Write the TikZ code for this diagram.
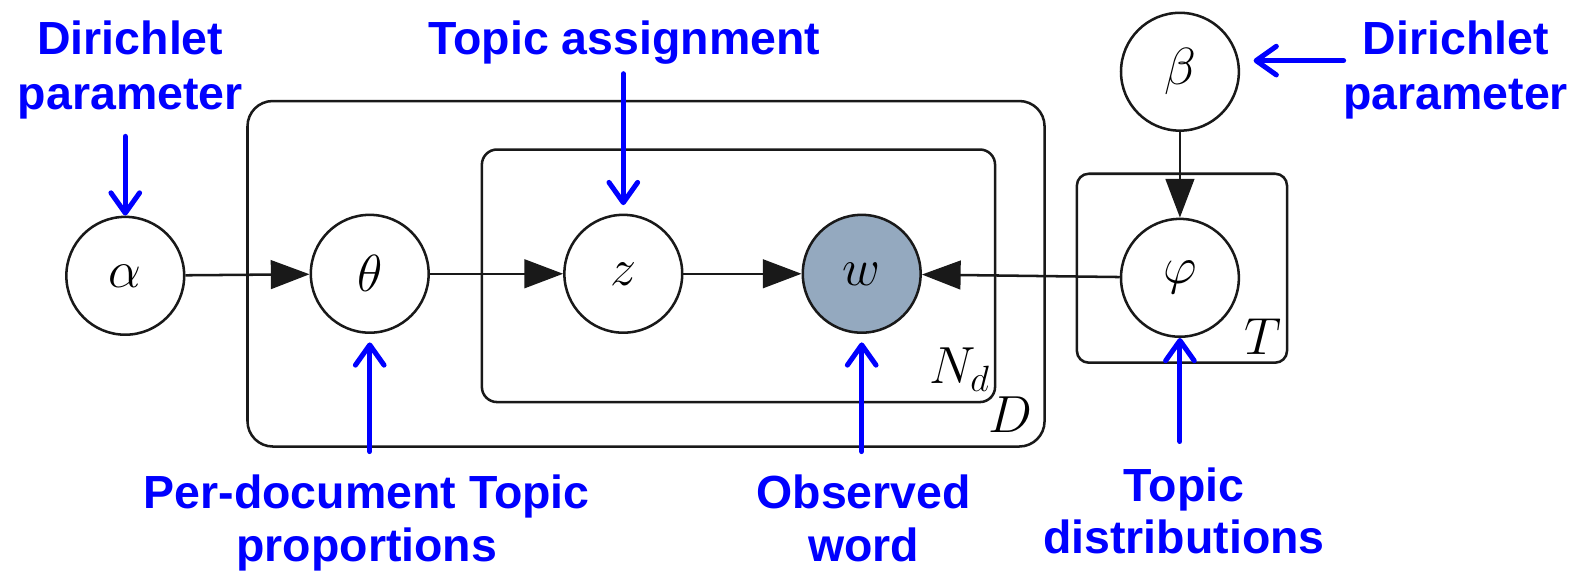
\RequirePackage{fix-cm}
\documentclass[tikz,border=0pt]{standalone}
\usepackage{fontspec}
\setsansfont{Liberation Sans}
\usetikzlibrary{arrows.meta}
\definecolor{lblue}{RGB}{0,0,255}
\definecolor{obs}{RGB}{148,169,191}
\definecolor{ink}{RGB}{25,25,25}
\begin{document}
\begin{tikzpicture}[x=0.6pt,y=-0.6pt,
  var/.style={circle,draw=ink,line width=1.5pt,minimum size=70pt,inner sep=0pt,font=\fontsize{31}{37}\selectfont},
  obsvar/.style={var,fill=obs},
  plate/.style={draw=ink,line width=1.5pt},
  edge/.style={draw=ink,line width=1.5pt,-{Triangle[length=23pt,width=17pt]}},
  note/.style={text=lblue,font=\sffamily\bfseries\fontsize{27.6}{33}\selectfont,align=center,inner sep=0pt},
  lownote/.style={note,font=\sffamily\bfseries\fontsize{27.6}{31}\selectfont},
  pointer/.style={draw=lblue,line width=3pt,line cap=round,-{Straight Barb[length=12pt,width=17pt,line cap=round,line join=round]}},
  platelabel/.style={font=\fontsize{31}{37}\selectfont,inner sep=0pt}
]
\useasboundingbox (0,0) rectangle (1568,568);
% plates
\draw[plate,rounded corners=15pt] (245,100) rectangle (1034,442);
\draw[plate,rounded corners=9pt] (477,148) rectangle (985,398);
\draw[plate,rounded corners=7pt] (1066,172) rectangle (1274,359);
% variables
\node[var] (alpha) at (124,273) {$\alpha$};
\node[var] (theta) at (366,271) {$\theta$};
\node[var] (z) at (617,271) {$z$};
\node[obsvar] (w) at (853,271) {$w$};
\node[var] (phi) at (1168,275) {$\varphi$};
\node[var] (beta) at (1168,71) {$\beta$};
% plate labels
\node[platelabel] (Nd) at (950,366) {$N_d$};
\node[platelabel] (Dl) at (1000,410) {$D$};
\node[platelabel] (Tl) at (1250,333) {$T$};
% edges
\draw[edge] (alpha) -- (theta);
\draw[edge] (theta) -- (z);
\draw[edge] (z) -- (w);
\draw[edge] (phi) -- (w);
\draw[edge] (beta) -- (phi);
% annotations
\node[note,anchor=north] (dirA) at (129,20) {Dirichlet\\parameter};
\coordinate (dirAp) at (124,135);
\draw[pointer] (dirAp) -- (alpha);
\node[note,anchor=north] (topA) at (618,20) {Topic assignment};
\coordinate (zp) at (617,73);
\draw[pointer,shorten >=5pt] (zp) -- (z);
\node[note,anchor=north] (dirB) at (1441,20) {Dirichlet\\parameter};
\coordinate (dirBp) at (1330,60);
\draw[pointer,shorten >=8pt] (dirBp) -- (dirBp -| beta.east);
\node[lownote,anchor=north] (perD) at (363,470) {Per-document Topic\\proportions};
\coordinate (thp) at (366,447);
\draw[pointer,shorten >=5pt] (thp) -- (theta);
\node[lownote,anchor=north] (obsW) at (855,470) {Observed\\word};
\coordinate (wp) at (853,447);
\draw[pointer,shorten >=5pt] (wp) -- (w);
\node[lownote,anchor=north] (topD) at (1172,463) {Topic\\distributions};
\coordinate (php) at (1168,437);
\draw[pointer] (php) -- (phi);
\end{tikzpicture}
\end{document}
